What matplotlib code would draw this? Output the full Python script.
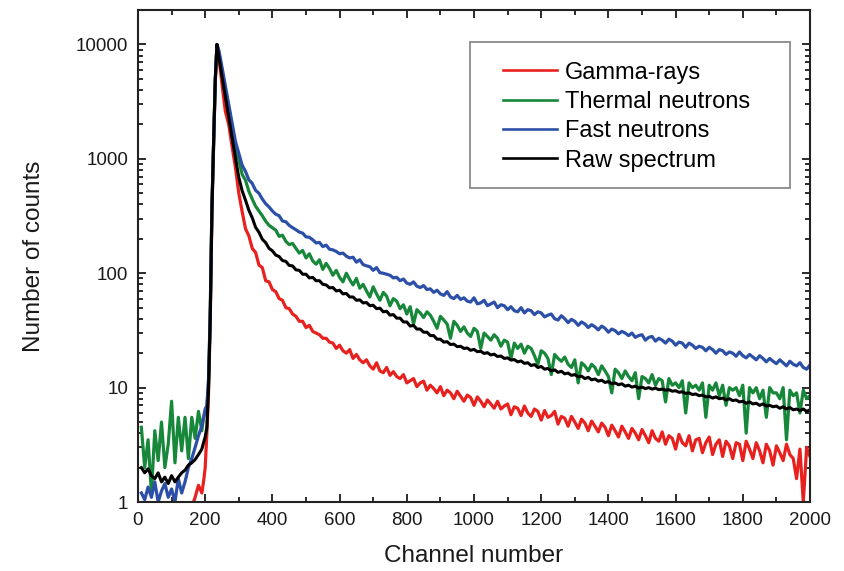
import numpy as np
import matplotlib
matplotlib.use("Agg")
import matplotlib.pyplot as plt
from matplotlib.patches import Rectangle
from matplotlib.ticker import FixedLocator, FixedFormatter, LogLocator, NullFormatter, MultipleLocator

plt.rcParams['font.family'] = ['Liberation Sans', 'DejaVu Sans']

# Channel grid: coarse low region, finer around the peak, then the tail
channels = list(range(10, 200, 10)) + list(range(195, 265, 5)) + list(range(270, 2010, 10))

nan = float('nan')

gamma_counts = (
    [nan] * 15 + [0.9, 1.1, 1.4, 1.2] +
    [1.5, 2.0, 4.0, 9, 38, 330, 1300, 4600, 9800, 7800, 6000, 4500, 3400, 2600] +
    [2000, 1280, 840, 500, 345, 245, 212, 165, 152, 118,
     112, 86, 84, 72, 69, 60, 58, 50, 49, 44,
     42, 38, 38, 33.5, 35, 31, 30, 29, 27, 27,
     25, 24.5, 22, 23.5, 21, 20, 21.5, 18, 19.5, 17.5,
     16.5, 17.5, 15.5, 14.5, 16.5, 14, 13.5, 15, 12.8, 13.8,
     12.5, 12, 13, 11, 11.5, 12, 10.2, 11, 11.4, 9.5,
     10.5, 9.8, 9, 10.2, 8.5, 9.5, 9, 8, 9.3, 8.4,
     7.6, 8.6, 8.2, 7, 8.3, 7.6, 6.8, 7.8, 7.2, 6.6,
     7.6, 6.5, 6.9, 7.2, 5.8, 6.8, 6.6, 5.7, 6.9, 6,
     5.6, 6.5, 6.2, 5.2, 6.3, 5.5, 5.7, 6.2, 4.8, 5.6,
     5.4, 4.6, 5.6, 5, 4.4, 5.3, 4.9, 4.2, 5.1, 4.6,
     4.1, 4.9, 4.5, 3.8, 4.7, 4.2, 3.7, 4.6, 4.1, 3.6,
     4.4, 4, 3.5, 4.3, 3.8, 3.3, 4.2, 3.6, 3.4, 4.1,
     3.2, 3.8, 3.6, 2.9, 3.9, 3.3, 3.1, 3.8, 2.8, 3.5,
     3.6, 2.7, 3.3, 3.7, 2.6, 3.2, 3.5, 2.5, 3.4, 3.1,
     2.4, 3.3, 3.2, 2.3, 3.4, 2.9, 2.4, 3.3, 2.8, 2.2,
     3.2, 2.8, 2.1, 3.1, 2.7, 2.3, 3.2, 2.6, 2.4, 1.6,
     2.9, 1.0, 3.0, 2.5]
)

thermal_counts = (
    [4.5, 2.0, 3.5, 1.2, 4.2, 2.3, 5.0, 2.0, 3.2, 7.6, 2.2, 5.5, 2.8, 5.5, 2.4, 5.5, 3.6, 6.2, 4.2] +
    [5.5, 6.0, 6.5, 11, 44, 370, 1400, 4900, 10000, 8800, 7300, 6000, 4900, 4000] +
    [2800, 1850, 1220, 980, 730, 650, 520, 445, 385, 350,
     318, 285, 262, 250, 238, 210, 215, 190, 178, 182,
     165, 150, 158, 136, 148, 128, 120, 131, 108, 122,
     110, 96, 106, 92, 84, 100, 88, 79, 90, 74,
     80, 70, 62, 76, 66, 58, 68, 63, 52, 60,
     57, 49, 53, 44, 51, 36, 48, 45, 41, 46,
     43, 38, 33, 42, 39, 36, 27, 38, 35, 31,
     34, 30, 28, 33, 31, 22, 30, 28, 26, 29,
     27, 23, 26, 25, 18, 24.5, 22, 24, 20, 23,
     22, 19, 16, 21, 20, 18, 13, 19.5, 18, 17,
     18.5, 16, 15, 17.5, 11, 16.5, 15.5, 14, 16, 15,
     13, 15.5, 14, 12.5, 9, 14.5, 13.5, 12, 14, 12.5,
     11.5, 13.5, 8, 12.5, 12, 11, 13, 10.5, 12, 11.5,
     7.5, 12, 10.5, 11, 10, 11.5, 6, 11, 10, 10.5,
     9.5, 11, 5.5, 10.5, 9.5, 11, 8.5, 10.5, 7, 10,
     9.5, 10, 8.5, 10.5, 4, 10, 9, 10, 8, 9.5,
     5.5, 10, 9, 9, 8, 10, 3.5, 9.5, 8.5, 9,
     6, 9.5, 8, 8.5]
)

fast_counts = (
    [1.2, 1.05, 1.35, 1.1, 1.5, 1.0, 1.25, 1.45, 1.1, 1.3, 1.0, 1.6, 1.2, 1.5, 2.0, 2.4, 3.0, 3.8, 4.6] +
    [5.5, 6.5, 7.0, 12, 45, 380, 1400, 4900, 10000, 9000, 7600, 6300, 5200, 4300] +
    [3000, 2050, 1420, 1120, 880, 775, 655, 610, 530, 500,
     445, 405, 380, 350, 328, 318, 286, 282, 262, 250,
     240, 229, 224, 208, 206, 196, 184, 186, 171, 176,
     162, 160, 155, 148, 150, 141, 136, 138, 125, 131,
     119, 116, 114, 106, 112, 101, 100, 98, 96, 91,
     92, 86, 89, 82, 80, 84, 77, 75, 78, 72,
     73, 68, 71, 66, 64, 69, 62, 60, 64, 59,
     61, 57, 56, 61, 54, 55, 58, 52, 54, 56,
     50, 53, 52, 48, 51, 47, 46, 50, 45, 48,
     47, 43.5, 46, 45, 41.5, 43, 44, 40, 39, 42.5,
     40, 37, 39.5, 38, 35, 37.5, 36, 33.5, 35.5, 34,
     32, 34.5, 33, 30.5, 32.5, 31.5, 29.5, 31, 30, 28.5,
     30, 27.5, 28.5, 29, 26, 27.5, 28, 25.5, 27, 26,
     24.5, 26.5, 25.5, 23.5, 25, 24.5, 22.5, 24.5, 23.5, 22,
     23, 22.5, 21, 22.5, 21.5, 20, 21.5, 21, 19.5, 20.5,
     20, 18.8, 20.5, 19, 18.2, 19.5, 18.5, 17.5, 19, 18,
     16.8, 18, 17, 16.2, 17.5, 16.5, 15.5, 17, 16, 15.5,
     16.5, 15, 14.5, 15.8]
)

raw_counts = (
    [2.0, 1.8, 1.95, 1.7, 1.6, 1.8, 1.5, 1.65, 1.45, 1.7, 1.5, 1.65, 1.8, 1.9, 2.1, 2.2, 2.35, 2.6, 2.9] +
    [3.3, 3.7, 4.5, 10, 40, 350, 1400, 4900, 10000, 8000, 6550, 5250, 4300, 3500] +
    [2300, 1530, 1020, 690, 525, 435, 355, 305, 252, 228,
     198, 185, 165, 157, 144, 140, 129, 127, 117, 116,
     107, 106, 98, 98, 91, 92, 86, 86, 80, 79,
     74.5, 75, 70, 71, 66, 66.5, 62, 62, 58, 58.5,
     55, 55.5, 52, 52.5, 49, 49.5, 46, 46.5, 43, 43.5,
     40.5, 40.5, 37.5, 37.5, 34.5, 35, 32.5, 32.5, 30.5, 30.5,
     28.5, 28.5, 26.5, 26.5, 25, 25.2, 23.8, 24, 22.8, 23,
     22, 22.2, 21.2, 21.6, 20.6, 20.8, 19.9, 20.2, 19.3, 19.6,
     18.7, 18.9, 18, 18.2, 17.4, 17.6, 16.8, 17.1, 16.3, 16.5,
     15.6, 15.9, 15, 15.3, 14.5, 14.7, 14, 14.3, 13.6, 13.9,
     13.2, 13.4, 12.8, 13, 12.4, 12.6, 12, 12.3, 11.7, 11.9,
     11.4, 11.6, 11.1, 11.3, 10.8, 11, 10.6, 10.8, 10.3, 10.5,
     10.1, 10.3, 9.9, 10.1, 9.8, 10, 9.7, 9.9, 9.6, 9.7,
     9.5, 9.6, 9.3, 9.4, 9.1, 9.2, 8.9, 9, 8.7, 8.8,
     8.5, 8.6, 8.3, 8.4, 8.1, 8.3, 8, 8.1, 7.8, 8,
     7.7, 7.8, 7.5, 7.6, 7.3, 7.5, 7.2, 7.3, 7, 7.2,
     6.9, 7, 6.8, 6.9, 6.6, 6.8, 6.5, 6.7, 6.4, 6.5,
     6.3, 6.5, 6.2, 6.4]
)

series_labels = ["Gamma-rays", "Thermal neutrons", "Fast neutrons", "Raw spectrum"]
series_colors = ["#e8211f", "#17873a", "#2c4fa8", "#000000"]
series_data = [gamma_counts, thermal_counts, fast_counts, raw_counts]

x_ticks = [0, 200, 400, 600, 800, 1000, 1200, 1400, 1600, 1800, 2000]
y_ticks = [1, 10, 100, 1000, 10000]
y_tick_labels = ["1", "10", "100", "1000", "10000"]

for s in series_data:
    assert len(s) == len(channels), (len(s), len(channels))

fig = plt.figure(figsize=(8.45, 5.71), dpi=100)
ax = fig.add_axes([0.1633, 0.1208, 0.7953, 0.8617])

widths = [2.3, 2.3, 2.3, 2.2]
for data, col, lw in zip(series_data, series_colors, widths):
    ax.plot(channels, data, color=col, lw=lw)

ax.set_yscale('log')
ax.set_xlim(0, 2000)
ax.set_ylim(1, 20000)

ax.xaxis.set_major_locator(FixedLocator(x_ticks))
ax.xaxis.set_minor_locator(MultipleLocator(100))
ax.yaxis.set_major_locator(FixedLocator(y_ticks))
ax.yaxis.set_major_formatter(FixedFormatter(y_tick_labels))
ax.yaxis.set_minor_locator(LogLocator(base=10, subs=np.arange(2, 10)))
ax.yaxis.set_minor_formatter(NullFormatter())

ax.tick_params(which='both', direction='in', top=True, right=True, width=1.3,
               labelsize=13.5, colors='#1a1a1a')
ax.tick_params(which='major', length=6, pad=7)
ax.tick_params(which='minor', length=3.5)
for sp in ax.spines.values():
    sp.set_linewidth(1.5)
    sp.set_color('#222222')

ax.set_xlabel("Channel number", fontsize=17.5, labelpad=12, color='#1a1a1a')
ax.set_ylabel("Number of counts", fontsize=17.5, labelpad=22, color='#1a1a1a')

# legend frame box
ax.add_patch(Rectangle((0.494, 0.638), 0.476, 0.297, transform=ax.transAxes,
                       facecolor='white', edgecolor='#8a8a8a', lw=1.3, zorder=4))
handles = [plt.Line2D([], [], color=c, lw=1.9) for c in series_colors]
leg = ax.legend(handles, series_labels, loc='upper left', bbox_to_anchor=(0.543, 0.895),
                fontsize=17, frameon=False, handlelength=2.3, handletextpad=0.34,
                labelspacing=0.31, borderpad=0, borderaxespad=0)
leg.set_zorder(5)

fig.savefig("out.png", dpi=100)
